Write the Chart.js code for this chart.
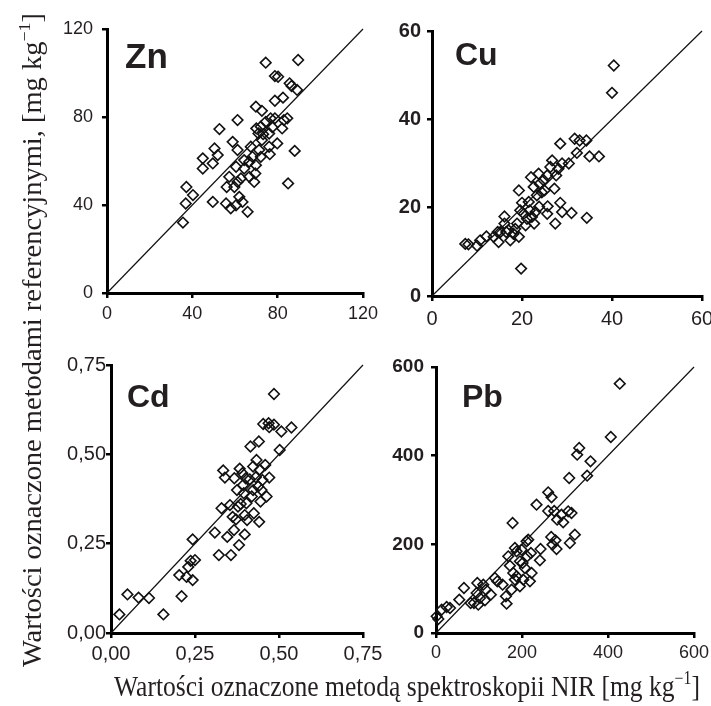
<!DOCTYPE html>
<html><head><meta charset="utf-8">
<script src="https://cdn.jsdelivr.net/npm/chart.js@4.4.1/dist/chart.umd.min.js"></script>
<style>
html,body{margin:0;padding:0;background:#fff;overflow:hidden;}
#wrap{position:relative;width:711px;height:706px;overflow:hidden;background:#fff;}
canvas{position:absolute;}
svg{position:absolute;left:0;top:0;pointer-events:none;}
</style></head><body>
<div id="wrap">
<canvas id="cZn"></canvas>
<canvas id="cCu"></canvas>
<canvas id="cCd"></canvas>
<canvas id="cPb"></canvas>
<svg width="711" height="706">
  <text transform="translate(41,667) rotate(-90)" font-family="Liberation Serif, Times New Roman, serif" font-size="27" fill="#231f20" textLength="654" lengthAdjust="spacingAndGlyphs">Wartości oznaczone metodami referencyjnymi, [mg kg<tspan dy="-11" font-size="17">−1</tspan><tspan dy="11">]</tspan></text>
  <text x="114" y="696" font-family="Liberation Serif, Times New Roman, serif" font-size="29" fill="#231f20" textLength="586" lengthAdjust="spacingAndGlyphs">Wartości oznaczone metodą spektroskopii NIR [mg kg<tspan dy="-12" font-size="18">−1</tspan><tspan dy="12">]</tspan></text>
</svg>
</div>
<script>
// ---------- DATA ----------
const znX = [35.6,36.9,37.2,40.3,44.9,44.9,49.6,49.6,50.4,51.9,52.7,55.8,56.1,57.3,58.9,59.7,60.5,60.5,61.2,61.2,61.2,62.0,62.8,63.5,64.3,64.3,65.9,66.7,66.7,67.4,68.2,69.0,69.8,69.8,70.0,71.0,71.3,72.1,72.1,72.6,72.6,73.2,74.4,74.4,76.0,76.0,76.3,76.7,77.5,78.7,78.7,78.7,79.8,80.2,82.1,82.5,82.9,84.5,84.9,85.6,86.5,88.0,89.1,89.6,69.5,58.0];
const znY = [32.0,40.7,48.2,44.5,61.2,56.6,58.9,41.4,65.7,62.7,74.5,40.7,48.2,52.8,68.7,48.2,57.4,39.9,65.0,50.5,78.6,43.7,52.1,41.4,60.4,56.6,36.9,59.6,52.8,66.5,61.9,50.5,58.1,84.7,74.8,72.5,65.0,75.6,61.9,69.5,82.8,72.2,77.8,104.7,72.5,66.5,63.1,79.4,75.3,79.4,98.6,87.4,68.0,98.3,74.8,88.8,78.6,79.4,49.8,95.3,94.1,64.6,92.3,105.9,54.3,38.5];

const cuX = [7.4,8.1,10.0,10.7,12.1,13.7,14.8,15.2,16.1,16.1,16.5,17.4,18.1,18.9,19.3,19.3,19.6,19.8,20.0,20.4,20.8,21.1,21.5,22.0,22.2,22.6,22.7,23.3,23.7,23.9,23.8,24.4,24.8,25.6,25.6,25.7,26.3,26.7,27.2,27.4,27.6,28.1,28.5,28.5,28.9,30.4,31.0,31.7,32.2,32.8,34.3,34.4,35.0,37.1,40.0,40.4,14.6,17.0,18.5,21.7,23.0,25.0,28.9];
const cuY = [11.8,11.7,11.4,12.6,13.5,13.4,12.2,14.5,18.0,16.4,14.5,12.6,14.1,16.4,23.9,13.4,19.4,6.2,21.1,18.6,16.0,17.5,21.3,26.9,17.9,24.7,16.4,22.8,27.7,25.4,20.2,23.5,26.2,27.3,18.6,20.3,29.2,30.7,24.3,16.4,27.3,28.8,34.5,21.1,19.0,30.0,18.8,35.6,32.4,35.2,35.2,17.7,31.6,31.6,46.0,52.2,14.5,14.9,15.2,19.4,19.0,23.9,30.0];

const cdX = [0.025,0.049,0.082,0.113,0.156,0.203,0.210,0.225,0.230,0.237,0.243,0.243,0.250,0.309,0.321,0.329,0.334,0.339,0.346,0.354,0.357,0.362,0.367,0.366,0.372,0.375,0.381,0.383,0.386,0.391,0.393,0.395,0.398,0.398,0.401,0.405,0.413,0.415,0.419,0.423,0.425,0.431,0.433,0.438,0.440,0.441,0.445,0.448,0.451,0.453,0.459,0.463,0.469,0.471,0.471,0.485,0.485,0.507,0.502,0.537,0.443,0.403,0.378,0.423];
const cdY = [0.052,0.108,0.099,0.098,0.052,0.162,0.103,0.157,0.185,0.202,0.148,0.262,0.204,0.281,0.218,0.349,0.455,0.435,0.269,0.358,0.218,0.325,0.433,0.288,0.318,0.400,0.246,0.460,0.361,0.447,0.414,0.391,0.276,0.330,0.433,0.316,0.430,0.522,0.382,0.466,0.335,0.436,0.484,0.410,0.536,0.311,0.368,0.400,0.428,0.585,0.470,0.382,0.587,0.576,0.435,0.669,0.583,0.564,0.512,0.575,0.457,0.363,0.354,0.400];

const pbX = [1.5,5.4,13.2,24.8,32.5,54.2,65.0,80.5,88.3,94.5,96.0,98.3,102.2,110.0,113.8,116.1,127.5,137.0,142.5,154.9,162.6,164.2,168.0,171.9,175.8,178.1,179.6,183.5,183.5,187.4,195.1,195.1,199.0,201.3,206.7,210.6,212.2,214.5,218.4,220.7,222.2,241.6,243.1,233.8,260.9,260.9,268.7,267.9,271.0,274.9,277.9,280.3,281.8,291.9,295.8,307.4,309.7,311.3,315.1,322.9,328.3,333.0,351.5,359.3,406.5,427.4,187.4,202.9];
const pbY = [37.6,31.6,52.6,58.6,56.4,75.2,101.5,67.7,67.7,90.2,112.8,63.9,78.9,109.0,73.7,97.7,86.5,124.1,116.5,109.0,82.7,66.2,172.9,151.9,97.7,248.1,135.3,120.3,191.7,184.2,161.7,105.3,188.0,157.9,146.6,206.8,172.9,210.5,116.5,180.5,135.3,163.9,189.5,289.5,317.3,275.2,306.0,216.6,199.3,275.2,209.0,189.5,255.6,266.9,249.6,274.4,349.6,203.0,270.7,221.8,402.3,417.3,354.9,387.2,442.1,562.4,127.8,120.3];

const znTicks = [0, 40, 80, 120];   const znLabels = ['0', '40', '80', '120'];
const cuTicks = [0, 20, 40, 60];    const cuLabels = ['0', '20', '40', '60'];
const cdTicks = [0, 0.25, 0.5, 0.75]; const cdLabels = ['0,00', '0,25', '0,50', '0,75'];
const pbTicks = [0, 200, 400, 600]; const pbLabels = ['0', '200', '400', '600'];

// ---------- LAYOUT / STYLE ----------
const YW = 75, XH = 40, PT = 22, PR = 28;
const FONT = "'Liberation Sans', Arial, sans-serif";
const TXT = '#231f20';
const panels = [
  {id:'cZn', name:'Zn', xs:znX, ys:znY, ticks:znTicks, labels:znLabels, L:107, R:363, T:29, B:293,
   xFont:{size:18}, yFont:{size:18}, yPad:9, xPad:5, nameSize:35, nx:18, ny:39},
  {id:'cCu', name:'Cu', xs:cuX, ys:cuY, ticks:cuTicks, labels:cuLabels, L:432, R:702, T:31, B:296,
   xFont:{size:20}, yFont:{size:20, weight:'bold'}, yPad:6, xPad:6, nameSize:32, nx:23, ny:34},
  {id:'cCd', name:'Cd', xs:cdX, ys:cdY, ticks:cdTicks, labels:cdLabels, L:111, R:363, T:365, B:633,
   xFont:{size:20}, yFont:{size:20}, yPad:0, xPad:4, nameSize:32, nx:16, ny:42},
  {id:'cPb', name:'Pb', xs:pbX, ys:pbY, ticks:pbTicks, labels:pbLabels, L:436, R:694, T:367, B:633,
   xFont:{size:18}, yFont:{size:19, weight:'bold'}, yPad:7, xPad:4, nameSize:32, nx:26, ny:40}
];

const namePlugin = {
  id: 'panelName',
  afterDraw(chart, args, opts) {
    const ctx = chart.ctx, a = chart.chartArea;
    ctx.save();
    ctx.font = 'bold ' + opts.size + 'px ' + FONT;
    ctx.fillStyle = TXT;
    ctx.textAlign = 'left';
    ctx.textBaseline = 'alphabetic';
    ctx.fillText(opts.text, a.left + opts.dx, a.top + opts.dy);
    ctx.restore();
  }
};

panels.forEach(p => {
  const cv = document.getElementById(p.id);
  const w = YW + (p.R - p.L) + PR, h = PT + (p.B - p.T) + XH;
  cv.width = w; cv.height = h;
  cv.style.left = (p.L - YW) + 'px';
  cv.style.top = (p.T - PT) + 'px';
  cv.style.width = w + 'px'; cv.style.height = h + 'px';
  const max = p.ticks[p.ticks.length - 1];
  const axisCommon = (font, pad, isX) => ({
    type: 'linear', min: 0, max: max,
    position: isX ? 'bottom' : 'left',
    grid: {drawOnChartArea: false, drawTicks: true, tickLength: 5, color: '#000', lineWidth: 2.5},
    border: {display: true, color: '#000', width: 3},
    afterBuildTicks: s => { s.ticks = p.ticks.map(v => ({value: v})); },
    afterFit: s => { if (isX) s.height = XH; else s.width = YW; },
    ticks: {
      color: TXT, padding: pad, maxRotation: 0, autoSkip: false,
      font: Object.assign({family: FONT}, font),
      callback: (v, i) => p.labels[i]
    }
  });
  new Chart(cv, {
    type: 'scatter',
    data: {
      datasets: [
        {data: p.xs.map((x, i) => ({x: x, y: p.ys[i]})), pointStyle: 'rectRot', pointRadius: 5.3,
         pointBorderWidth: 1.6, borderColor: '#111', backgroundColor: 'rgba(0,0,0,0)', clip: false},
        {data: [{x: 0, y: 0}, {x: max, y: max}], showLine: true, borderColor: '#111', borderWidth: 1.2,
         pointRadius: 0, clip: false}
      ]
    },
    options: {
      responsive: false, animation: false, devicePixelRatio: 1,
      layout: {padding: {top: PT, right: PR, left: 0, bottom: 0}},
      plugins: {legend: {display: false}, tooltip: {enabled: false},
        panelName: {text: p.name, size: p.nameSize, dx: p.nx, dy: p.ny}},
      scales: {x: axisCommon(p.xFont, p.xPad, true), y: axisCommon(p.yFont, p.yPad, false)}
    },
    plugins: [namePlugin]
  });
});
</script>
</body></html>
